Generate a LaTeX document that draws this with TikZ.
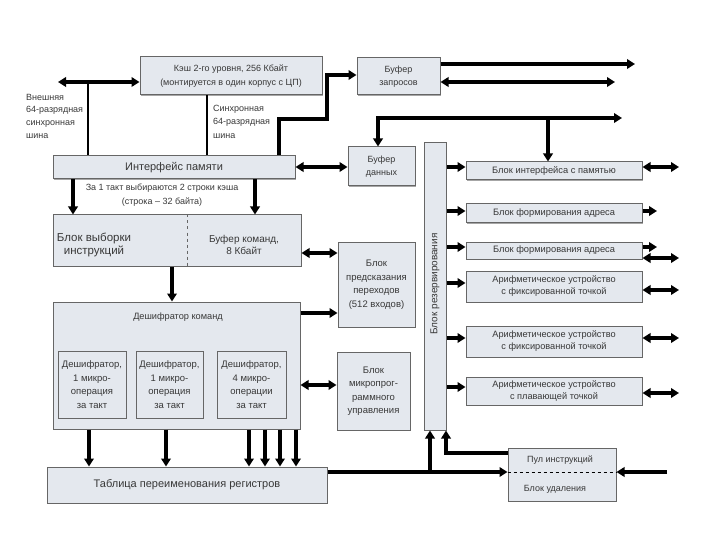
\documentclass[tikz,border=0pt]{standalone}
\usepackage{fontspec}
\setmainfont{Liberation Sans}
\usetikzlibrary{arrows.meta,calc,shadows}
\definecolor{boxfill}{HTML}{E4E8EE}
\definecolor{boxline}{HTML}{666666}
\definecolor{txt}{HTML}{383838}
\tikzset{
  blk/.style={draw=boxline,fill=boxfill,line width=1pt,inner sep=1pt,align=center,text=txt,
    drop shadow={shadow xshift=1.2pt,shadow yshift=-1.2pt,fill=black,opacity=0.35}},
  lbl/.style={text=txt,inner sep=0pt},
  fs/.style 2 args={font=\fontsize{#1}{#2}\selectfont},
  wire/.style={line width=3.3pt,line cap=butt},
  thin wire/.style={line width=2.6pt},
  arr/.style={wire,-{Triangle[length=8pt,width=9.5pt]}},
  darr/.style={wire,{Triangle[length=8pt,width=9.5pt]}-{Triangle[length=8pt,width=9.5pt]}},
}
\begin{document}
\begin{tikzpicture}[x=1pt,y=-1pt]
\useasboundingbox (0,0) rectangle (720,540);
% ---- boxes
\node[blk,fs={9}{14},minimum width=182pt,minimum height=38pt] (cache) at (231,76) {Кэш 2-го уровня, 256 Кбайт\\(монтируется в один корпус с ЦП)};
\node[blk,fs={9}{13},minimum width=83pt,minimum height=37pt] (bufreq) at (398.5,76.5) {Буфер\\запросов};
\node[blk,fs={11}{13},minimum width=242pt,minimum height=23pt] (memint) at (174,167.5) {Интерфейс памяти};
\node[blk,fs={9}{13},minimum width=67pt,minimum height=39pt] (databuf) at (381.5,166.5) {Буфер\\данных};
\node[blk,minimum width=22pt,minimum height=287pt] (reserve) at (435,286.5) {};
\node[lbl,fs={10}{11},rotate=90] (reservetxt) at (435,284) {Блок резервирования};
\node[blk,fs={9.3}{12},minimum width=176pt,minimum height=18pt] (memif) at (554,171) {Блок интерфейса с памятью};
\node[blk,fs={9.3}{12},minimum width=176pt,minimum height=19pt] (addr1) at (554,213.5) {Блок формирования адреса};
\node[blk,fs={9.3}{12},minimum width=176pt,minimum height=17pt] (addr2) at (554,250.5) {Блок формирования адреса};
\node[blk,fs={9.2}{12},minimum width=176pt,minimum height=31pt] (alu1) at (554,286.5) {Арифметическое устройство\\с фиксированной точкой};
\node[blk,fs={9.2}{12},minimum width=176pt,minimum height=31pt] (alu2) at (554,341.5) {Арифметическое устройство\\с фиксированной точкой};
\node[blk,fs={9.2}{12},minimum width=176pt,minimum height=28pt] (alu3) at (554,391) {Арифметическое устройство\\с плавающей точкой};
\node[blk,minimum width=248pt,minimum height=51pt] (instr) at (177,240.5) {};
\node[lbl,fs={11.5}{12.5},align=center] (instrL) at (94,245) {Блок выборки\\инструкций};
\node[lbl,fs={10}{12.5},align=center] (instrR) at (244,245) {Буфер команд,\\8 Кбайт};
\draw[boxline,dashed,line width=0.8pt] (187,0 |- instr.north) -- (187,0 |- instr.south);
\node[blk,fs={9.5}{13.5},minimum width=77pt,minimum height=85pt] (pred) at (376.5,284.5) {Блок\\предсказания\\переходов\\(512 входов)};
\node[blk,fs={9.5}{13.5},minimum width=73pt,minimum height=78pt] (micro) at (373.5,391) {Блок\\микропрог-\\раммного\\управления};
\node[blk,minimum width=247pt,minimum height=127pt] (dec) at (176.5,365.5) {};
\node[lbl,fs={9.2}{12}] (dectxt) at (178,317) {Дешифратор команд};
\node[blk,fs={9.5}{13.5},minimum width=68pt,minimum height=67pt] (sub1) at (92,384.5) {Дешифратор,\\1 микро-\\операция\\за такт};
\node[blk,fs={9.5}{13.5},minimum width=67pt,minimum height=67pt] (sub2) at (169.5,384.5) {Дешифратор,\\1 микро-\\операция\\за такт};
\node[blk,fs={9.5}{13.5},minimum width=69pt,minimum height=67pt] (sub3) at (251.5,384.5) {Дешифратор,\\4 микро-\\операции\\за такт};
\node[blk,fs={11}{12},minimum width=280pt,minimum height=36pt] (table) at (187,485) {Таблица переименования регистров};
\node[blk,minimum width=108pt,minimum height=53pt] (pool) at (562,474.5) {};
\draw[black,dashed,line width=0.9pt] (pool.west |- 0,472) -- (pool.east |- 0,472);
\node[lbl,fs={9}{12}] (pooltxt) at (560,460) {Пул инструкций};
\node[lbl,fs={9}{12}] (deltxt) at (555,489) {Блок удаления};
% ---- free labels
\node[lbl,fs={9}{12.7},align=left,anchor=west] (extbus) at (26,116) {Внешняя\\64-разрядная\\синхронная\\шина};
\node[lbl,fs={9}{13.5},align=left,anchor=west] (syncbus) at (213,121.5) {Синхронная\\64-разрядная\\шина};
\node[lbl,fs={9}{14},align=center] (fetchtxt) at (162,195) {За 1 такт выбираются 2 строки кэша\\(строка – 32 байта)};
% ---- coordinates
\coordinate (extL) at (58,82);
\coordinate (reqR1) at (635,64);
\coordinate (reqR2) at (615,82);
\coordinate (dbusL) at (378,118);
\coordinate (dbusM) at (548,118);
\coordinate (dbusR) at (622,118);
\coordinate (j1) at (279,119);
\coordinate (j2) at (327,119);
\coordinate (j3) at (327,75);
\coordinate (jr) at (430,472);
\coordinate (jp) at (446,453);
\coordinate (poolR) at (667,472);
% ---- connectors, top
\draw[darr] (extL) -- (cache.west |- extL);
\draw[thin wire] (88,82) -- (88,0 |- memint.north);
\draw[thin wire] (207,0 |- cache.south) -- (207,0 |- memint.north);
\draw[arr,line join=miter] (279,0 |- memint.north) -- (j1) -- (j2) -- (j3) -- (bufreq.west |- j3);
\draw[arr] (bufreq.east |- reqR1) -- (reqR1);
\draw[darr] (bufreq.east |- reqR2) -- (reqR2);
\draw[arr] (dbusL) -- (dbusR);
\draw[arr] ([yshift=1.65pt]dbusL) -- (dbusL |- databuf.north);
\draw[arr] (dbusM) -- (dbusM |- memif.north);
\draw[darr] (memint.east |- 0,167) -- (databuf.west |- 0,167);
% ---- reserve to execution units
\draw[arr] (reserve.east |- 0,167) -- (memif.west |- 0,167);
\draw[arr] (reserve.east |- 0,211) -- (addr1.west |- 0,211);
\draw[arr] (reserve.east |- 0,247) -- (addr2.west |- 0,247);
\draw[arr] (reserve.east |- 0,283) -- (alu1.west |- 0,283);
\draw[arr] (reserve.east |- 0,338) -- (alu2.west |- 0,338);
\draw[arr] (reserve.east |- 0,387) -- (alu3.west |- 0,387);
% ---- execution unit outputs
\draw[darr] (memif.east |- 0,167) -- (679,167);
\draw[arr] (addr1.east |- 0,211) -- (657,211);
\draw[arr] (addr2.east |- 0,247) -- (657,247);
\draw[darr] (addr2.east |- 0,258) -- (679,258);
\draw[darr] (alu1.east |- 0,290) -- (679,290);
\draw[darr] (alu2.east |- 0,338) -- (679,338);
\draw[darr] (alu3.east |- 0,393) -- (679,393);
% ---- front end
\draw[arr] (73,0 |- memint.south) -- (73,0 |- instr.north);
\draw[arr] (255,0 |- memint.south) -- (255,0 |- instr.north);
\draw[arr] (172,0 |- instr.south) -- (172,0 |- dec.north);
\draw[darr] (instr.east |- 0,253) -- (pred.west |- 0,253);
\draw[arr] (dec.east |- 0,313) -- (pred.west |- 0,313);
\draw[darr] (dec.east |- 0,385) -- (micro.west |- 0,385);
\foreach \xx in {89,166,249,265,280,296}
  \draw[arr] (\xx,0 |- dec.south) -- (\xx,0 |- table.north);
% ---- bottom
\draw[arr] (table.east |- jr) -- (pool.west |- jr);
\draw[arr] ([yshift=-1.65pt]jr) -- (jr |- reserve.south);
\draw[arr,line join=miter] (pool.west |- jp) -- (jp) -- (jp |- reserve.south);
\draw[arr] (poolR) -- (pool.east |- poolR);
\end{tikzpicture}
\end{document}
